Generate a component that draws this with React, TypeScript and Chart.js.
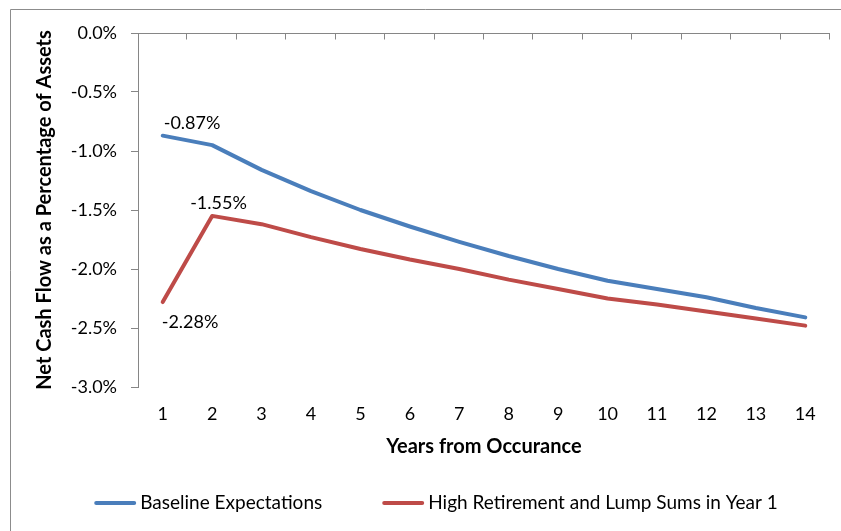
import React, { useEffect, useRef } from "react";
import { Chart, registerables } from "chart.js";

Chart.register(...registerables);

const years = ["1", "2", "3", "4", "5", "6", "7", "8", "9", "10", "11", "12", "13", "14"];
const baseline = [-0.87, -0.95, -1.16, -1.34, -1.5, -1.64, -1.77, -1.89, -2.0, -2.1, -2.17, -2.24, -2.33, -2.41];
const highRetirement = [-2.28, -1.55, -1.62, -1.73, -1.83, -1.92, -2.0, -2.09, -2.17, -2.25, -2.3, -2.36, -2.42, -2.48];
const seriesNames = ["Baseline Expectations", "High Retirement and Lump Sums in Year 1"];
const yTitle = "Net Cash Flow as a Percentage of Assets";
const xTitle = "Years from Occurance";

const BLUE = "#4A7EBB";
const RED = "#BE4B48";
const AXIS = "#868686";
const FONT = "Lato";

// data labels: dataset, index, dx, dy (style offsets)
const labelSpecs = [
  { ds: 0, i: 0, dx: 1, dy: -12 },
  { ds: 1, i: 1, dx: -22, dy: -13 },
  { ds: 1, i: 0, dx: -1, dy: 20 },
];

const decorPlugin = {
  id: "decor",
  afterDraw(chart: any) {
    const { ctx, chartArea, width, height } = chart;
    ctx.save();
    // outer frame (top + left visible)
    ctx.strokeStyle = "#8C8C8C";
    ctx.lineWidth = 1;
    ctx.beginPath();
    ctx.moveTo(10.5, height);
    ctx.lineTo(10.5, 9.5);
    ctx.lineTo(width, 9.5);
    ctx.stroke();
    // top category axis with ticks pointing down
    ctx.strokeStyle = AXIS;
    ctx.beginPath();
    const ty = Math.round(chartArea.top) + 0.5;
    ctx.moveTo(chartArea.left, ty);
    ctx.lineTo(chartArea.right, ty);
    const n = years.length;
    const step = (chartArea.right - chartArea.left) / n;
    for (let k = 1; k <= n; k++) {
      const x = Math.round(chartArea.left + step * k) - 0.5;
      ctx.moveTo(x, ty);
      ctx.lineTo(x, ty + 6);
    }
    ctx.stroke();
    // data labels
    ctx.fillStyle = "#000";
    ctx.font = `18px ${FONT}`;
    ctx.textAlign = "left";
    ctx.textBaseline = "middle";
    for (const s of labelSpecs) {
      const el = chart.getDatasetMeta(s.ds).data[s.i];
      const v = chart.data.datasets[s.ds].data[s.i] as number;
      ctx.fillText(`${v.toFixed(2)}%`, el.x + s.dx, el.y + s.dy);
    }
    // legend
    ctx.font = `19px ${FONT}`;
    const colors = [BLUE, RED];
    const sample = 42;
    const gapText = 4;
    const gapItems = 60;
    const widths = seriesNames.map((t) => sample + gapText + ctx.measureText(t).width);
    const total = widths[0] + widths[1] + gapItems;
    let x = 436 - total / 2;
    const ly = 503;
    seriesNames.forEach((t, i) => {
      ctx.strokeStyle = colors[i];
      ctx.lineWidth = 4;
      ctx.lineCap = "round";
      ctx.beginPath();
      ctx.moveTo(x + 2, ly);
      ctx.lineTo(x + sample - 2, ly);
      ctx.stroke();
      ctx.fillStyle = "#000";
      ctx.fillText(t, x + sample + gapText, ly);
      x += widths[i] + gapItems;
    });
    ctx.restore();
  },
};

export default function App() {
  const ref = useRef<HTMLCanvasElement>(null);
  useEffect(() => {
    if (!ref.current) return;
    const chart = new Chart(ref.current, {
      type: "line",
      data: {
        labels: years,
        datasets: [
          {
            label: seriesNames[0],
            data: baseline,
            borderColor: BLUE,
            backgroundColor: BLUE,
            borderWidth: 4,
            pointRadius: 0,
            tension: 0,
            borderCapStyle: "round",
            borderJoinStyle: "round",
          },
          {
            label: seriesNames[1],
            data: highRetirement,
            borderColor: RED,
            backgroundColor: RED,
            borderWidth: 4,
            pointRadius: 0,
            tension: 0,
            borderCapStyle: "round",
            borderJoinStyle: "round",
          },
        ],
      },
      options: {
        responsive: false,
        animation: false,
        layout: { padding: { left: 0, top: 33, right: 11, bottom: 64 } },
        plugins: { legend: { display: false }, tooltip: { enabled: false } },
        scales: {
          x: {
            type: "category",
            offset: true,
            grid: { display: false, drawTicks: false },
            border: { display: false },
            ticks: { color: "#000", font: { family: FONT, size: 18 }, padding: 16, maxRotation: 0, autoSkip: false },
            title: { display: true, text: xTitle, color: "#000", font: { family: FONT, size: 20, weight: "bold" }, padding: { top: 0, bottom: 8 } },
            afterFit: (s: any) => { s.height = 80; },
          },
          y: {
            min: -3,
            max: 0,
            grid: { display: true, drawOnChartArea: false, drawTicks: true, tickLength: 7, color: AXIS },
            border: { display: true, color: AXIS },
            ticks: {
              stepSize: 0.5,
              color: "#000",
              font: { family: FONT, size: 18 },
              padding: 14,
              callback: (v: any) => `${Number(v).toFixed(1)}%`,
            },
            title: { display: true, text: yTitle, color: "#000", font: { family: FONT, size: 20, weight: "bold" }, padding: { top: 33, bottom: 0 } },
            afterFit: (s: any) => { s.width = 138; },
          },
        },
      },
      plugins: [decorPlugin],
    });
    return () => chart.destroy();
  }, []);
  return (
    <div style={{ position: "fixed", left: 0, top: 0, width: 841, height: 531, background: "#fff" }}>
      <canvas ref={ref} width={841} height={531} style={{ display: "block" }} />
    </div>
  );
}
